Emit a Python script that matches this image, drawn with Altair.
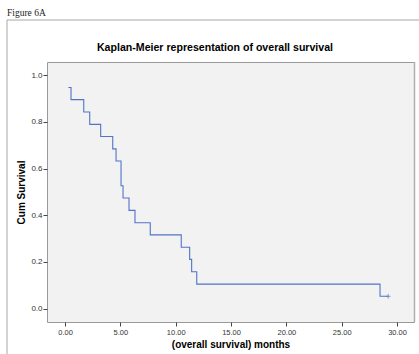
import altair as alt
import pandas as pd

# Kaplan-Meier step points (months, cumulative survival)
times = [0.30, 0.54, 1.69, 2.23, 3.22, 4.31, 4.61, 5.06, 5.24, 5.78, 6.32, 7.70,
         10.50, 11.26, 11.44, 11.90, 28.46, 29.20]
surv = [0.947, 0.895, 0.842, 0.789, 0.737, 0.684, 0.632, 0.526, 0.474, 0.421,
        0.368, 0.316, 0.263, 0.211, 0.158, 0.105, 0.053, 0.053]
censor_times = [29.20]
censor_surv = [0.053]

x_ticks = [0, 5, 10, 15, 20, 25, 30]
y_ticks = [0.0, 0.2, 0.4, 0.6, 0.8, 1.0]
fig_label = ["Figure 6A"]
chart_title = ["Kaplan-Meier representation of overall survival"]

km = pd.DataFrame({"t": times, "s": surv})
cens = pd.DataFrame({"t": censor_times, "s": censor_surv})
lab = pd.DataFrame({"label": fig_label})
ttl = pd.DataFrame({"label": chart_title})

FONT = "Liberation Sans"
LINE = "#5173c9"

xs = alt.Scale(domain=[-1.63, 31.53], nice=False, zero=False)
ys = alt.Scale(domain=[-0.057, 1.056], nice=False, zero=False)

xax = alt.Axis(values=x_ticks, format=".2f", title="(overall survival) months",
               grid=False, domain=False,
               titleFontSize=10, titleFont=FONT, titleFontWeight="bold",
               titleColor="#000000", titleBaseline="alphabetic", titleY=25.5,
               labelFontSize=7.5, labelPadding=2, tickSize=4)
yax = alt.Axis(values=y_ticks, format=".1f", title="Cum Survival",
               grid=False, domain=False,
               titleFontSize=10, titleFont=FONT, titleFontWeight="bold",
               titleColor="#000000", titleX=-20.5, titleY=130,
               labelFontSize=8, labelPadding=1, tickSize=4)

line = alt.Chart(km).mark_line(interpolate="step-after", color=LINE,
                               strokeWidth=1.1).encode(
    x=alt.X("t:Q", scale=xs, axis=xax),
    y=alt.Y("s:Q", scale=ys, axis=yax),
)

censor = alt.Chart(cens).mark_point(shape="M-1,0H1M0,-1V1", size=22,
                                    filled=False, color=LINE,
                                    strokeWidth=1).encode(
    x=alt.X("t:Q", scale=xs),
    y=alt.Y("s:Q", scale=ys),
)

frame_v = alt.Chart(lab).mark_rule(color="#a8a8a8", strokeWidth=1).encode(
    x=alt.value(-40), y=alt.value(-42), y2=alt.value(300))
frame_h = alt.Chart(lab).mark_rule(color="#a8a8a8", strokeWidth=1).encode(
    x=alt.value(-40), x2=alt.value(380), y=alt.value(-42))
right_edge = alt.Chart(lab).mark_rule(color="#b0b0b0", strokeWidth=1.5).encode(
    x=alt.value(367.5), y=alt.value(0), y2=alt.value(260))

fig_text = alt.Chart(lab).mark_text(font="Liberation Serif", fontSize=9.5,
                                    align="left", baseline="alphabetic",
                                    color="#222222").encode(
    x=alt.value(-40), y=alt.value(-46), text="label:N")

title_text = alt.Chart(ttl).mark_text(font=FONT, fontSize=10.6, fontWeight="bold",
                                      align="center", baseline="alphabetic",
                                      color="#000000").encode(
    x=alt.value(168), y=alt.value(-11), text="label:N")

chart = alt.layer(line, censor, right_edge, frame_v, frame_h, fig_text,
                  title_text).properties(
    width=367, height=260,
    background="#ffffff",
    autosize=alt.AutoSizeParams(type="none"),
    padding={"left": 47, "top": 62, "right": 5, "bottom": 32},
).configure_view(fill="#f2f2f2", stroke="#999999", strokeWidth=1
).configure_axis(grid=False, domain=False, labelFont=FONT, labelColor="#333333",
                 tickColor="#444444", tickWidth=1)

chart.save("out.html", embed_options={"renderer": "svg", "actions": False})
